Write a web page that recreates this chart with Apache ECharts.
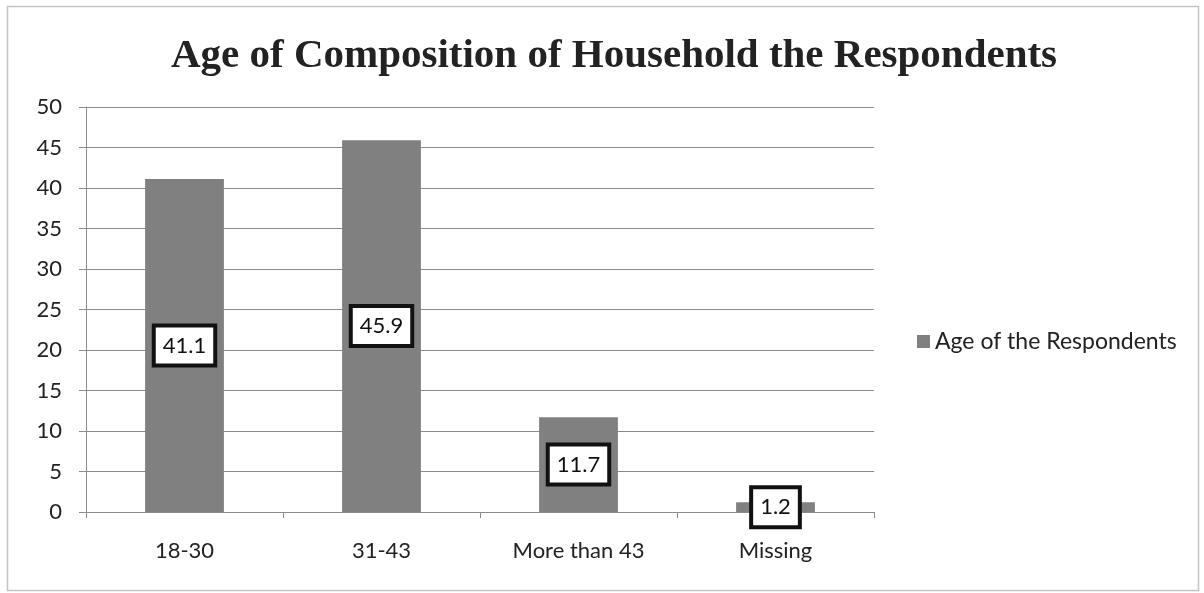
<!DOCTYPE html>
<html>
<head>
<meta charset="utf-8">
<script src="https://cdn.jsdelivr.net/npm/echarts@6/dist/echarts.min.js"></script>
<style>
  html, body { margin: 0; padding: 0; background: #ffffff; }
  #chart { width: 1204px; height: 593px; }
</style>
</head>
<body>
<div id="chart"></div>
<script>
// Age groups and their share of respondents (%)
const categories = ['18-30', '31-43', 'More than 43', 'Missing'];
const values = [41.1, 45.9, 11.7, 1.2];
const yTicks = [0, 5, 10, 15, 20, 25, 30, 35, 40, 45, 50];
const seriesName = 'Age of the Respondents';
const titleText = 'Age of Composition of Household the Respondents';

const labelFont = 'Lato, "Open Sans", "Noto Sans", sans-serif';

const chart = echarts.init(document.getElementById('chart'));
chart.setOption({
  backgroundColor: '#ffffff',
  animation: false,
  title: {
    text: titleText,
    left: 609,
    textAlign: 'center',
    top: 31,
    textStyle: {
      fontFamily: '"Liberation Serif", "Times New Roman", serif',
      fontWeight: 'bold',
      fontSize: 41,
      color: '#222222'
    }
  },
  graphic: [{
    type: 'rect',
    shape: { x: 7.5, y: 6.5, width: 1191, height: 584 },
    style: { fill: 'none', stroke: '#c4c4c4', lineWidth: 1.5 },
    silent: true
  }],
  legend: {
    orient: 'vertical',
    left: 912,
    top: 325,
    itemWidth: 13,
    itemHeight: 13,
    itemGap: 8,
    icon: 'rect',
    textStyle: { fontFamily: labelFont, fontSize: 23, color: '#222222' },
    data: [seriesName]
  },
  grid: { left: 86, right: 330, top: 107, bottom: 81 },
  xAxis: {
    type: 'category',
    data: categories,
    axisLine: { lineStyle: { color: '#8c8c8c', width: 1 } },
    axisTick: { show: true, alignWithLabel: false, length: 6, lineStyle: { color: '#8c8c8c' } },
    axisLabel: { fontFamily: labelFont, fontSize: 22, color: '#222222', margin: 28 }
  },
  yAxis: {
    type: 'value',
    min: yTicks[0],
    max: yTicks[yTicks.length - 1],
    interval: yTicks[1] - yTicks[0],
    axisLine: { show: true, lineStyle: { color: '#8c8c8c', width: 1 } },
    axisTick: { show: true, length: 7, lineStyle: { color: '#8c8c8c' } },
    splitLine: { lineStyle: { color: '#8c8c8c', width: 1 } },
    axisLabel: { fontFamily: labelFont, fontSize: 22, color: '#222222', margin: 24 }
  },
  series: [{
    name: seriesName,
    type: 'bar',
    data: values,
    barWidth: '40%',
    itemStyle: { color: '#808080' },
    label: {
      show: true,
      position: 'inside',
      fontFamily: labelFont,
      fontSize: 22,
      color: '#111111',
      backgroundColor: '#ffffff',
      borderColor: '#111111',
      borderWidth: 4,
      padding: [8, 7, 6, 7],
      formatter: p => p.value.toFixed(1)
    }
  }]
});
</script>
</body>
</html>
